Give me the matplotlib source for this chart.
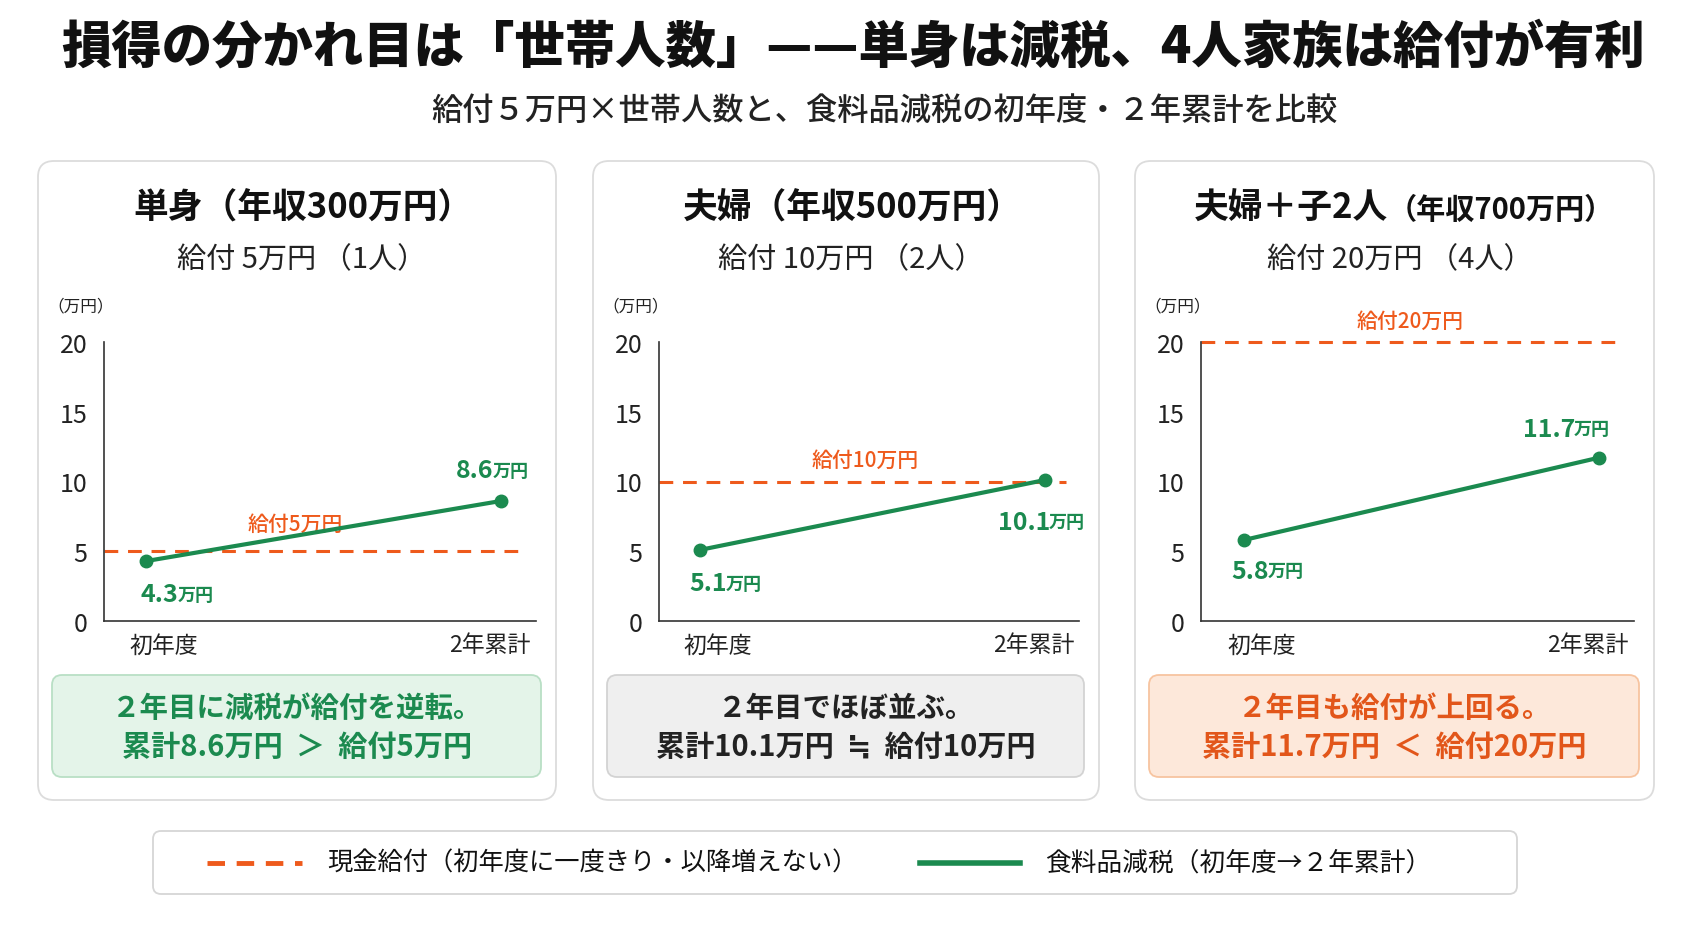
import matplotlib
matplotlib.use('Agg')
import matplotlib.pyplot as plt
from matplotlib.patches import FancyBboxPatch

plt.rcParams['font.family'] = ['Noto Sans CJK JP', 'DejaVu Sans']

# データ
titles = ['単身（年収300万円）', '夫婦（年収500万円）', '夫婦＋子2人']
title_suffix = ['', '', '（年収700万円）']
subtitles = ['給付 5万円 （1人）', '給付 10万円 （2人）', '給付 20万円 （4人）']
x_labels = ['初年度', '2年累計']
tax_cut = [[4.3, 8.6], [5.1, 10.1], [5.8, 11.7]]   # 食料品減税（万円）
cash = [5, 10, 20]                                   # 現金給付（万円）
summary = [['２年目に減税が給付を逆転。', '累計8.6万円  ＞  給付5万円'],
           ['２年目でほぼ並ぶ。', '累計10.1万円  ≒  給付10万円'],
           ['２年目も給付が上回る。', '累計11.7万円  ＜  給付20万円']]
legend_labels = ['現金給付（初年度に一度きり・以降増えない）', '食料品減税（初年度→２年累計）']

GREEN = '#1b8a4f'
ORANGE = '#ee5a1c'
W, H = 1693, 929

fig = plt.figure(figsize=(W / 100, H / 100), dpi=100)
fig.patch.set_facecolor('white')

# 背景用（ピクセル座標）
bg = fig.add_axes([0, 0, 1, 1])
bg.set_xlim(0, W)
bg.set_ylim(H, 0)
bg.axis('off')

bg.text(853, 47, '損得の分かれ目は「世帯人数」——単身は減税、4人家族は給付が有利',
        ha='center', va='center', fontsize=36.3, fontweight='heavy', color='#111')
bg.text(884, 111, '給付５万円×世帯人数と、食料品減税の初年度・２年累計を比較',
        ha='center', va='center', fontsize=22.5, fontweight='medium', color='#222')

panel_x = [38, 593, 1135]
panel_w = [518, 506, 519]
box_styles = [('#e4f4e9', '#b9dfc5', GREEN),
              ('#efefef', '#d3d3d3', '#222222'),
              ('#fde8da', '#f7c4a0', '#e2561a')]
# ラベル位置（points）：[始点, 終点]
pt_off = [[(-4, -24, 'left'), (-5, 22, 'right')],
          [(-8, -24, 'left'), (4, -30, 'right')],
          [(-9, -22, 'left'), (-17, 21, 'right')]]
cash_lbl_x = [0.42, 0.48, 0.47]
cash_lbl_dy = [20, 15.5, 15]

for i in range(3):
    x0, pw = panel_x[i], panel_w[i]
    bg.add_patch(FancyBboxPatch((x0, 162), pw, 639, boxstyle='round,pad=0,rounding_size=16',
                                fc='white', ec='#dcdcdc', lw=1.3))
    cx = x0 + pw / 2
    if title_suffix[i]:
        split = 1388
        bg.text(split, 208, titles[i], ha='right', va='center', fontsize=25,
                fontweight='bold', color='#111')
        bg.text(split, 210, title_suffix[i], ha='left', va='center', fontsize=21,
                fontweight='bold', color='#111')
    else:
        bg.text(cx + 6, 208, titles[i], ha='center', va='center', fontsize=25,
                fontweight='bold', color='#111')
    bg.text(cx + 5, 260, subtitles[i], ha='center', va='center', fontsize=21, color='#222')
    bg.text(x0 + 43, 307, '（万円）', ha='center', va='center', fontsize=12, color='#222')

    fc, ec, tc = box_styles[i]
    bg.add_patch(FancyBboxPatch((x0 + 14, 676), pw - 29, 102, boxstyle='round,pad=0,rounding_size=10',
                                fc=fc, ec=ec, lw=1.3))
    bg.text(cx, 709, summary[i][0], ha='center', va='center', fontsize=20.5,
            fontweight='bold', color=tc)
    bg.text(cx, 747, summary[i][1], ha='center', va='center', fontsize=21,
            fontweight='bold', color=tc)

    # グラフ
    left = x0 + 66
    right = x0 + pw - 20
    ax = fig.add_axes([left / W, 1 - 622 / H, (right - left) / W, (622 - 343) / H])
    ax.set_facecolor('none')
    ax.set_xlim(-0.12, 1.1)
    ax.set_ylim(0, 20)
    ax.set_yticks([0, 5, 10, 15, 20])
    ax.set_xticks([0.05, 0.97])
    ax.set_xticklabels(x_labels)
    ax.tick_params(length=0, labelsize=18, labelcolor='#222', pad=12)
    ax.tick_params(axis='x', labelsize=16.5, pad=9)
    for s in ['top', 'right']:
        ax.spines[s].set_visible(False)
    for s in ['left', 'bottom']:
        ax.spines[s].set_color('#333')
        ax.spines[s].set_linewidth(1.2)

    ax.axhline(cash[i], xmin=0, xmax=0.97, color=ORANGE, lw=2.2, dashes=(4.5, 3.2), clip_on=False)
    ax.annotate(f'給付{cash[i]}万円', (cash_lbl_x[i], cash[i]), xytext=(0, cash_lbl_dy[i]),
                textcoords='offset points', ha='center', va='center', fontsize=15,
                fontweight='medium', color=ORANGE)

    ax.plot([0, 1], tax_cut[i], color=GREEN, lw=3, marker='o', ms=9, clip_on=False, zorder=3)
    for j in range(2):
        dx, dy, ha = pt_off[i][j]
        t = ax.annotate(f'{tax_cut[i][j]}', (j, tax_cut[i][j]), xytext=(dx, dy),
                        textcoords='offset points', ha=ha, va='center', fontsize=18,
                        fontweight='bold', color=GREEN)
        ax.annotate('万円', xy=(1, 0.1), xycoords=t, xytext=(-1, 0), textcoords='offset points',
                    ha='left', va='bottom', fontsize=13, fontweight='bold', color=GREEN)

# 凡例
bg.add_patch(FancyBboxPatch((153, 832), 1364, 63, boxstyle='round,pad=0,rounding_size=8',
                            fc='white', ec='#d6d6d6', lw=1.3))
bg.plot([207, 302], [864, 864], color=ORANGE, lw=3.5, dashes=(3.6, 2.4))
bg.text(327, 864, legend_labels[0], ha='left', va='center', fontsize=18.2, color='#111')
bg.plot([920, 1020], [864, 864], color=GREEN, lw=4)
bg.text(1045, 864, legend_labels[1], ha='left', va='center', fontsize=18.5, color='#111')

fig.savefig('out.png', dpi=100, facecolor='white')
